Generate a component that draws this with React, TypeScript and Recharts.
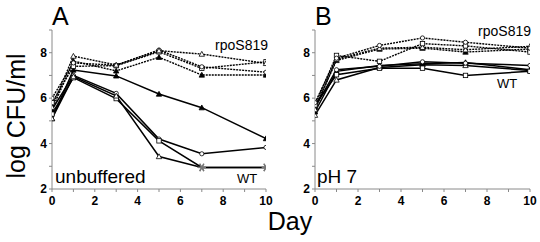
import React from 'react';
import { LineChart, Line, XAxis, YAxis } from 'recharts';

const days = [0, 1, 3, 5, 7, 10];
const xTicks = [0, 1, 2, 3, 4, 5, 6, 7, 8, 9, 10];
const yTicks = [2, 3, 4, 5, 6, 7, 8, 9];

// Panel A (unbuffered)
const rpoA_circle = [6.0, 7.55, 7.45, 8.12, 7.38, 7.14];
const rpoA_square = [5.8, 7.4, 7.43, 8.04, 7.31, 7.6];
const rpoA_tri = [5.6, 7.85, 7.46, 8.09, 7.94, 7.53];
const rpoA_ftri = [5.5, 7.63, 7.2, 7.8, 7.02, 7.02];
const wtA_circle = [5.5, 7.0, 6.21, 4.2, 3.55, 3.83];
const wtA_square = [5.3, 6.9, 5.98, 4.12, 2.95, 2.95];
const wtA_tri = [5.1, 6.95, 6.1, 3.43, 2.95, 2.95];
const wtA_ftri = [5.1, 7.24, 6.98, 6.18, 5.58, 4.22];

// Panel B (pH 7)
const rpoB_circle = [5.8, 7.76, 8.32, 8.65, 8.46, 8.2];
const rpoB_square = [5.7, 7.88, 7.62, 8.4, 8.3, 8.03];
const rpoB_tri = [5.5, 7.72, 8.2, 8.24, 8.13, 8.28];
const rpoB_ftri = [5.6, 7.66, 8.16, 8.2, 8.03, 8.16];
const wtB_circle = [5.6, 7.25, 7.4, 7.6, 7.54, 7.44];
const wtB_square = [5.7, 7.03, 7.32, 7.32, 7.0, 7.18];
const wtB_ftri = [5.4, 7.18, 7.44, 7.51, 7.57, 7.25];
const wtB_tri = [5.25, 6.8, 7.35, 7.47, 7.44, 7.22];

const DETECTION_LIMIT = 3.0;
const FONT = '"Liberation Sans", Arial, Helvetica, sans-serif';

type Shape = 'circle' | 'square' | 'tri' | 'ftri';

const makeDot = (shape: Shape, useAsterisk: boolean) => (props: any) => {
  const { cx, cy, value, index } = props;
  const key = `d-${shape}-${index}`;
  if (cx == null || cy == null) return <g key={key} />;
  const v = Array.isArray(value) ? value[1] : value;
  if (useAsterisk && v <= DETECTION_LIMIT) {
    const r = 4.2;
    const arms = [0, 60, 120].map((a) => {
      const rad = (a * Math.PI) / 180;
      return (
        <line
          key={a}
          x1={cx - r * Math.cos(rad)}
          y1={cy - r * Math.sin(rad)}
          x2={cx + r * Math.cos(rad)}
          y2={cy + r * Math.sin(rad)}
          stroke="#777"
          strokeWidth={1.3}
        />
      );
    });
    return <g key={key}>{arms}</g>;
  }
  if (shape === 'circle') {
    return <circle key={key} cx={cx} cy={cy} r={2.1} fill="#fff" stroke="#000" strokeWidth={0.8} />;
  }
  if (shape === 'square') {
    return <rect key={key} x={cx - 2.2} y={cy - 2.2} width={4.4} height={4.4} fill="#fff" stroke="#000" strokeWidth={0.8} />;
  }
  const s = 2.7;
  const pts = `${cx},${cy - s} ${cx - s},${cy + s * 0.8} ${cx + s},${cy + s * 0.8}`;
  return (
    <polygon
      key={key}
      points={pts}
      fill={shape === 'ftri' ? '#000' : '#fff'}
      stroke="#000"
      strokeWidth={0.8}
    />
  );
};

type SeriesDef = { key: string; values: number[]; shape: Shape; dashed: boolean };

const buildData = (series: SeriesDef[]) =>
  days.map((d, i) => {
    const row: any = { day: d };
    series.forEach((s) => {
      row[s.key] = s.values[i];
    });
    return row;
  });

const seriesA: SeriesDef[] = [
  { key: 'wtA_ftri', values: wtA_ftri, shape: 'ftri', dashed: false },
  { key: 'wtA_circle', values: wtA_circle, shape: 'circle', dashed: false },
  { key: 'wtA_square', values: wtA_square, shape: 'square', dashed: false },
  { key: 'wtA_tri', values: wtA_tri, shape: 'tri', dashed: false },
  { key: 'rpoA_ftri', values: rpoA_ftri, shape: 'ftri', dashed: true },
  { key: 'rpoA_square', values: rpoA_square, shape: 'square', dashed: true },
  { key: 'rpoA_circle', values: rpoA_circle, shape: 'circle', dashed: true },
  { key: 'rpoA_tri', values: rpoA_tri, shape: 'tri', dashed: true },
];

const seriesB: SeriesDef[] = [
  { key: 'wtB_tri', values: wtB_tri, shape: 'tri', dashed: false },
  { key: 'wtB_ftri', values: wtB_ftri, shape: 'ftri', dashed: false },
  { key: 'wtB_square', values: wtB_square, shape: 'square', dashed: false },
  { key: 'wtB_circle', values: wtB_circle, shape: 'circle', dashed: false },
  { key: 'rpoB_ftri', values: rpoB_ftri, shape: 'ftri', dashed: true },
  { key: 'rpoB_tri', values: rpoB_tri, shape: 'tri', dashed: true },
  { key: 'rpoB_square', values: rpoB_square, shape: 'square', dashed: true },
  { key: 'rpoB_circle', values: rpoB_circle, shape: 'circle', dashed: true },
];

const evenOnly = (v: number) => (v % 2 === 0 ? String(v) : '');
const tickStyle = { fontFamily: FONT, fontSize: 12, fontWeight: 'bold', fill: '#000' };
const AXIS_COLOR = '#8a8a8a';

const Panel = ({
  series,
  width,
  yAxisWidth,
  right,
  asterisks,
}: {
  series: SeriesDef[];
  width: number;
  yAxisWidth: number;
  right: number;
  asterisks: boolean;
}) => (
  <LineChart
    width={width}
    height={242}
    data={buildData(series)}
    margin={{ top: 30, right, left: 0, bottom: 0 }}
  >
    <XAxis
      dataKey="day"
      type="number"
      domain={[0, 10]}
      ticks={xTicks}
      tickFormatter={evenOnly}
      interval={0}
      height={53}
      tickSize={3}
      tickMargin={4}
      stroke={AXIS_COLOR}
      tick={tickStyle}
      allowDataOverflow
    />
    <YAxis
      type="number"
      domain={[2, 9]}
      ticks={yTicks}
      tickFormatter={evenOnly}
      interval={0}
      width={yAxisWidth}
      tickSize={3}
      tickMargin={2}
      stroke={AXIS_COLOR}
      tick={tickStyle}
      allowDataOverflow
    />
    {series.map((s) => (
      <Line
        key={s.key}
        dataKey={s.key}
        type="linear"
        stroke="#000"
        strokeWidth={s.dashed ? 1.4 : 1.5}
        strokeDasharray={s.dashed ? '2 1' : undefined}
        dot={makeDot(s.shape, asterisks && !s.dashed)}
        activeDot={false}
        isAnimationActive={false}
      />
    ))}
  </LineChart>
);

export default function App() {
  return (
    <div style={{ position: 'absolute', left: 0, top: 0, width: 540, height: 242, background: '#fff' }}>
      <div style={{ position: 'absolute', left: 0, top: 0 }}>
        <Panel series={seriesA} width={280} yAxisWidth={52} right={14} asterisks />
      </div>
      <div style={{ position: 'absolute', left: 270, top: 0 }}>
        <Panel series={seriesB} width={270} yAxisWidth={45} right={10} asterisks={false} />
      </div>
      <svg
        width={540}
        height={242}
        style={{ position: 'absolute', left: 0, top: 0, pointerEvents: 'none' }}
        fontFamily={FONT}
      >
        <text x={52} y={25} fontSize={25}>A</text>
        <text x={315} y={25} fontSize={25}>B</text>
        <text
          x={25}
          y={116}
          fontSize={25}
          textAnchor="middle"
          transform="rotate(-90, 25, 116)"
        >
          log CFU/ml
        </text>
        <text x={290} y={230} fontSize={25} textAnchor="middle">Day</text>
        <text x={55} y={183} fontSize={19}>unbuffered</text>
        <text x={237} y={183} fontSize={13}>WT</text>
        <text x={268} y={50} fontSize={14} textAnchor="end">rpoS819</text>
        <text x={317} y={183} fontSize={19}>pH 7</text>
        <text x={531} y={36} fontSize={14} textAnchor="end">rpoS819</text>
        <text x={497} y={88} fontSize={13}>WT</text>
      </svg>
    </div>
  );
}
